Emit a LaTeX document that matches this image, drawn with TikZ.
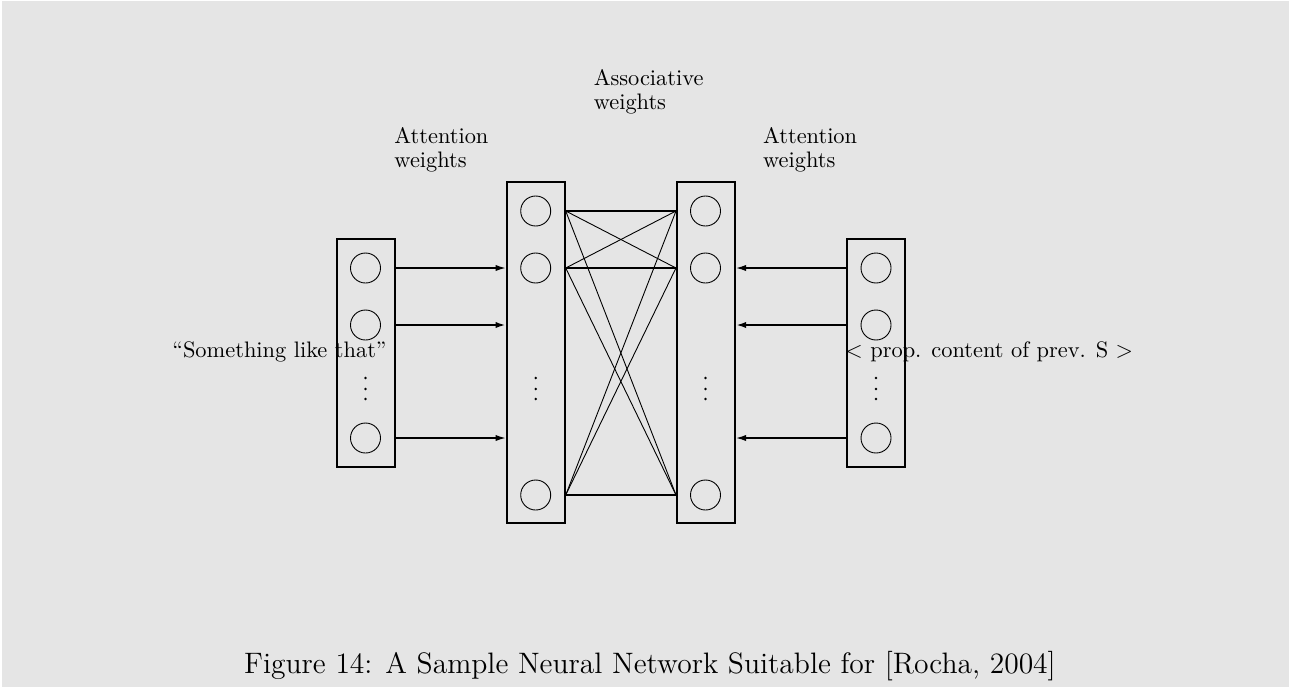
\documentclass[tikz,border=0pt]{standalone}
\usetikzlibrary{arrows.meta}
\definecolor{bg}{RGB}{229,229,229}
\begin{document}
\begin{tikzpicture}[x=0.4464pt,y=-0.4464pt,
  colbox/.style={draw,line width=0.9pt,inner sep=0pt,minimum width=25.9pt},
  unit/.style={draw,circle,line width=0.4pt,inner sep=0pt,minimum size=13.4pt},
  arr/.style={line width=0.6pt,-{Latex[length=4.5pt,width=2.8pt]}},
  assoc/.style={line width=0.4pt},
  hassoc/.style={line width=0.75pt},
  lbl/.style={anchor=north west,inner sep=0pt,align=left,font={\fontsize{10}{10.7}\selectfont}},
  dotc/.style={fill=black,circle,inner sep=0pt,minimum size=1.2pt}]
\useasboundingbox (0,0) rectangle (1289,687);
\fill[white] (0,0) rectangle (1289,687);
\fill[bg] (2,1) rectangle (1289,687);
% column boxes
\node[colbox,minimum height=101.8pt] (Lbox) at (366,353) {};
\node[colbox,minimum height=152.4pt] (Cbox) at (535.7,352.3) {};
\node[colbox,minimum height=152.4pt] (Dbox) at (706,352.3) {};
\node[colbox,minimum height=101.8pt] (Rbox) at (876,353) {};
% units
\node[unit] (L1) at (365.5,268) {};
\node[unit] (L2) at (365.5,325) {};
\node[unit] (L3) at (365.5,438) {};
\node[unit] (C1) at (535.7,211) {};
\node[unit] (C2) at (535.7,268) {};
\node[unit] (C3) at (535.7,495) {};
\node[unit] (D1) at (705.5,211) {};
\node[unit] (D2) at (705.5,268) {};
\node[unit] (D3) at (705.5,495) {};
\node[unit] (R1) at (876,268) {};
\node[unit] (R2) at (876,325) {};
\node[unit] (R3) at (876,438) {};
% ellipsis dots
\foreach \n/\x in {Ld/365.5,Cd/535.7,Dd/705.5,Rd/876}{
  \node[dotc] (\n a) at (\x,378) {};
  \node[dotc] (\n b) at (\x,389) {};
  \node[dotc] (\n c) at (\x,399) {};
}
% attention arrows
\draw[arr] (L1 -| Lbox.east) -- (L1 -| Cbox.west);
\draw[arr,line width=0.85pt] (L2 -| Lbox.east) -- (L2 -| Cbox.west);
\draw[arr] (L3 -| Lbox.east) -- (L3 -| Cbox.west);
\draw[arr] (R1 -| Rbox.west) -- (R1 -| Dbox.east);
\draw[arr,line width=0.85pt] (R2 -| Rbox.west) -- (R2 -| Dbox.east);
\draw[arr] (R3 -| Rbox.west) -- (R3 -| Dbox.east);
% associative weights
\draw[hassoc] (C1 -| Cbox.east) -- (D1 -| Dbox.west);
\draw[hassoc] (C2 -| Cbox.east) -- (D2 -| Dbox.west);
\draw[hassoc,line width=1pt] (C3 -| Cbox.east) -- (D3 -| Dbox.west);
\foreach \a/\b in {C1/D2,C1/D3,C2/D1,C2/D3,C3/D1,C3/D2}{
  \draw[assoc] (\a -| Cbox.east) -- (\b -| Dbox.west);
}
% labels
\node[lbl] (attL) at (394,126.7) {Attention\\weights};
\node[lbl] (assoc) at (593.3,69) {Associative\\weights};
\node[lbl] (attR) at (762.7,126.7) {Attention\\weights};
\node[anchor=base,inner sep=0pt] (inL) at (279.5,357.3) {``Something like that''};
\node[anchor=base west,inner sep=0pt] (inR) at (845,357.3) {$<$ prop. content of prev. S $>$};
\node[anchor=base,inner sep=0pt,font={\fontsize{13.2}{16}\selectfont}] (cap) at (650,673) {Figure 14: A Sample Neural Network Suitable for [Rocha, 2004]};
\end{tikzpicture}
\end{document}
